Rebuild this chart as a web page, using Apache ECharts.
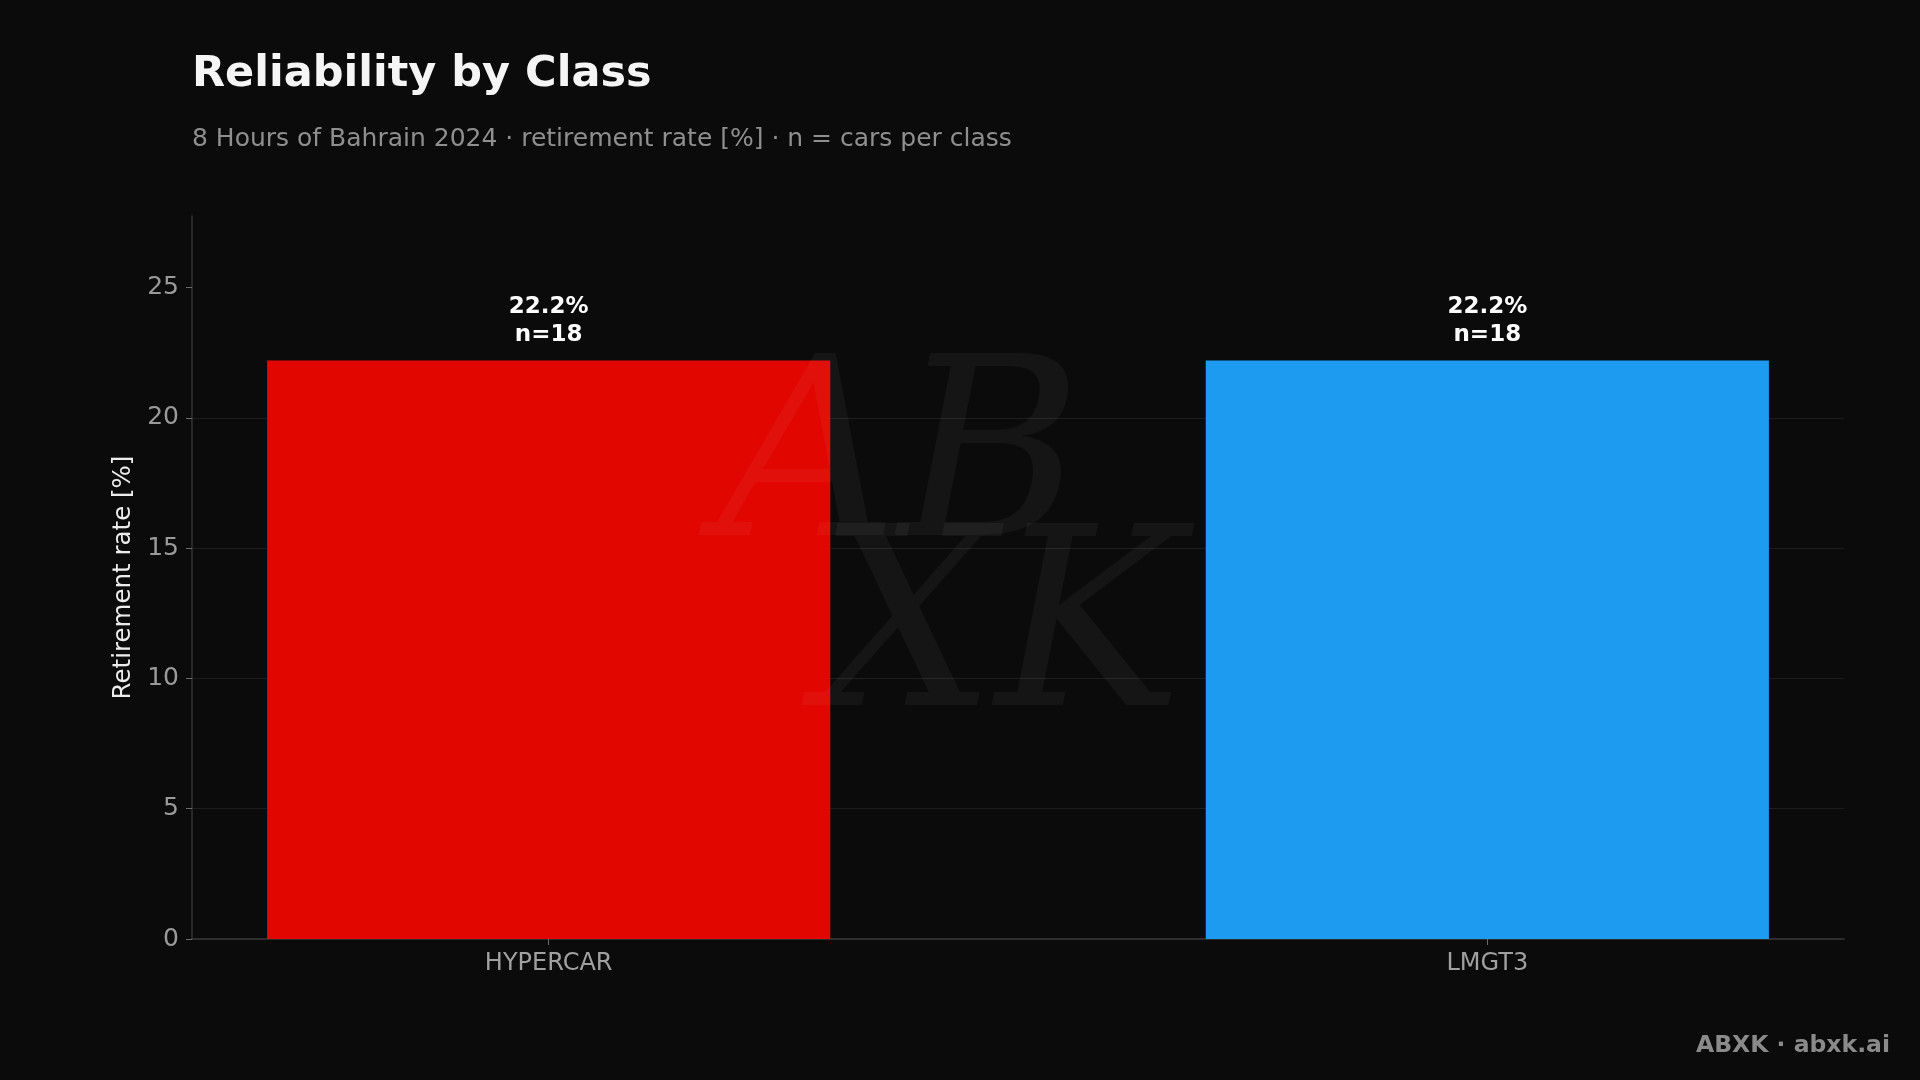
<!DOCTYPE html>
<html>
<head>
<meta charset="utf-8">
<script src="https://cdn.jsdelivr.net/npm/echarts@6/dist/echarts.min.js"></script>
<style>
html,body{margin:0;padding:0;background:#0b0b0b;}
#chart{width:1920px;height:1080px;}
</style>
</head>
<body>
<div id="chart"></div>
<script>
const categories = ['HYPERCAR', 'LMGT3'];
const retirementRate = [22.2, 22.2];
const carsPerClass = [18, 18];
const barColors = ['#e10600', '#1d9bf0'];
const yTicks = [0, 5, 10, 15, 20, 25];

const chart = echarts.init(document.getElementById('chart'));
const font = 'DejaVu Sans';

const option = {
  backgroundColor: '#0b0b0b',
  animation: false,
  title: [
    {
      text: 'Reliability by Class',
      left: 187, top: 48,
      textStyle: { fontFamily: font, fontSize: 43, fontWeight: 'bold', color: '#f5f5f5' }
    },
    {
      text: '8 Hours of Bahrain 2024 · retirement rate [%] · n = cars per class',
      left: 187, top: 122,
      textStyle: { fontFamily: font, fontSize: 25, fontWeight: 'normal', color: '#8f8f8f' }
    }
  ],
  grid: { left: 192, right: 76, top: 216, bottom: 141, containLabel: false },
  xAxis: {
    type: 'value',
    min: -0.38,
    max: 1.38,
    splitLine: { show: false },
    axisLine: { show: true, lineStyle: { color: '#3a3a3a', width: 1.5 } },
    axisTick: { show: true, customValues: [0, 1], length: 6, lineStyle: { color: '#6a6a6a' } },
    axisLabel: {
      customValues: [0, 1],
      formatter: v => categories[Math.round(v)] || '',
      fontFamily: font, fontSize: 24, color: '#a0a0a0', margin: 13
    }
  },
  yAxis: {
    type: 'value',
    min: 0,
    max: 27.75,
    interval: 5,
    name: 'Retirement rate [%]',
    nameLocation: 'middle',
    nameGap: 45,
    nameTextStyle: { fontFamily: font, fontSize: 24.5, color: '#ececec' },
    axisLine: { show: true, onZero: false, lineStyle: { color: '#333333', width: 1.5 } },
    axisTick: { show: true, customValues: yTicks, length: 6, lineStyle: { color: '#6a6a6a' } },
    axisLabel: {
      customValues: yTicks,
      fontFamily: font, fontSize: 25, color: '#9a9a9a', margin: 13,
      padding: [10, 0, 0, 0]
    },
    splitLine: { show: true, showMinLine: false, showMaxLine: false, lineStyle: { color: '#1e1e1e', width: 1 } }
  },
  series: [{
    type: 'bar',
    barWidth: '60%',
    data: retirementRate.map((v, i) => ({
      value: [i, v],
      itemStyle: { color: barColors[i] }
    })),
    label: {
      show: true,
      position: 'top',
      distance: 12,
      formatter: p => '{a|' + p.value[1].toFixed(1) + '%}\n{a|n=' + carsPerClass[p.dataIndex] + '}',
      rich: {
        a: { fontFamily: font, fontSize: 23, fontWeight: 'bold', color: '#ffffff', lineHeight: 28, align: 'center' }
      }
    }
  }],
  graphic: [
    {
      type: 'text', z: 100, silent: true,
      x: 900, y: 470,
      style: {
        text: 'AB', fontFamily: 'DejaVu Serif', fontStyle: 'italic', fontSize: 250,
        fill: 'rgba(255,255,255,0.045)', align: 'center', verticalAlign: 'middle'
      }
    },
    {
      type: 'text', z: 100, silent: true,
      x: 1000, y: 640,
      style: {
        text: 'XK', fontFamily: 'DejaVu Serif', fontStyle: 'italic', fontSize: 250,
        fill: 'rgba(255,255,255,0.045)', align: 'center', verticalAlign: 'middle'
      }
    },
    {
      type: 'text', silent: true,
      right: 30, top: 1034,
      style: {
        text: 'ABXK · abxk.ai', fontFamily: font, fontSize: 23.5, fontWeight: 'bold',
        fill: '#8a8a8a'
      }
    }
  ]
};
chart.setOption(option);
</script>
</body>
</html>
